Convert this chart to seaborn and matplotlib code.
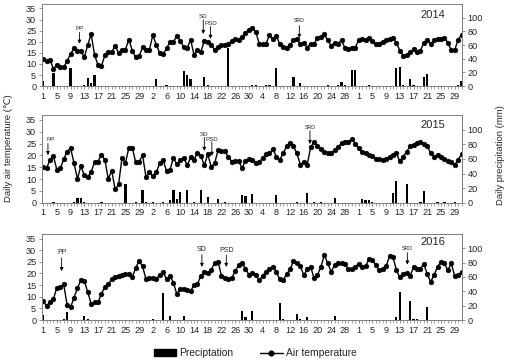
import numpy as np
import matplotlib
matplotlib.use("Agg")
import matplotlib.pyplot as plt
from matplotlib.patches import Patch
from matplotlib.lines import Line2D
import seaborn as sns

sns.set_theme(style="ticks")
plt.rcParams['font.family'] = ['Liberation Sans', 'DejaVu Sans']

# daily air temperature, 1 May - 31 Aug (123 days)
temp_2014 = [12.2, 11.5, 12.0, 7.8, 9.5, 8.5, 8.5, 11.3, 14.5, 17.0,
             16.0, 15.8, 13.0, 18.5, 23.5, 14.0, 9.5, 9.0, 14.0, 15.5,
             15.5, 18.0, 15.0, 16.5, 16.5, 21.0, 16.0, 13.0, 13.5, 17.5,
             16.5, 16.5, 23.0, 18.5, 15.0, 14.5, 17.0, 20.0, 20.0, 22.5,
             20.5, 17.5, 17.0, 21.0, 14.0, 16.5, 15.5, 20.5, 20.0, 18.5,
             16.5, 17.5, 18.5, 18.7, 19.0, 20.5, 21.2, 21.0, 22.0, 24.0,
             25.5, 26.0, 24.5, 19.2, 18.9, 19.2, 22.9, 21.1, 22.6, 18.9,
             17.7, 17.4, 18.5, 20.7, 21.1, 18.9, 19.6, 17.4, 19.2, 19.2,
             21.6, 22.2, 23.3, 20.7, 18.2, 19.6, 19.2, 20.7, 17.1, 16.7,
             17.0, 17.4, 20.7, 21.1, 20.7, 21.6, 20.4, 18.9, 19.2, 20.1,
             20.7, 21.1, 21.6, 19.6, 16.0, 13.7, 13.9, 15.2, 16.7, 15.2,
             16.0, 19.6, 20.7, 18.9, 20.7, 21.1, 21.3, 21.9, 19.6, 16.2,
             16.2, 21.0, 23.0]
temp_2015 = [15.0, 14.6, 18.1, 19.8, 13.9, 14.5, 18.4, 21.6, 23.1, 16.8,
             10.0, 15.5, 11.6, 10.8, 13.0, 17.2, 17.4, 20.3, 18.1, 10.0,
             13.6, 5.6, 7.7, 19.0, 16.7, 23.3, 23.3, 17.0, 17.4, 20.0,
             10.8, 12.8, 11.1, 12.8, 16.8, 18.0, 13.2, 13.9, 19.0, 16.2,
             18.1, 18.9, 15.8, 19.1, 18.2, 20.8, 19.7, 15.8, 20.4, 15.2,
             16.6, 22.2, 21.8, 21.8, 19.3, 17.4, 17.8, 17.6, 14.6, 17.8,
             18.3, 18.2, 16.8, 17.2, 18.8, 20.5, 20.9, 22.6, 19.5, 18.1,
             20.9, 23.8, 25.2, 23.8, 20.9, 16.0, 17.4, 16.0, 23.5, 25.5,
             23.8, 22.6, 21.6, 20.9, 21.2, 22.1, 23.5, 25.2, 25.5, 25.5,
             27.0, 25.0, 23.0, 21.5, 21.0, 20.2, 19.8, 18.6, 18.3, 18.1,
             18.4, 19.5, 20.2, 20.9, 17.5, 19.5, 21.6, 23.8, 24.5, 25.2,
             25.6, 24.8, 24.0, 20.9, 19.5, 20.3, 19.2, 18.4, 17.8, 17.0,
             16.0, 18.1, 20.5]
temp_2016 = [8.1, 6.0, 7.9, 9.0, 13.9, 14.1, 15.3, 6.4, 5.4, 9.6,
             13.6, 17.1, 16.7, 12.1, 6.9, 7.6, 7.6, 11.3, 14.2, 15.3,
             17.4, 18.3, 19.0, 19.5, 19.8, 19.7, 18.3, 22.5, 25.3, 23.0,
             17.5, 18.0, 18.0, 17.5, 19.5, 20.5, 17.5, 19.0, 16.0, 11.0,
             13.5, 13.5, 13.0, 12.5, 15.0, 15.5, 19.0, 20.5, 20.0, 21.5,
             24.5, 25.0, 19.0, 18.0, 17.5, 18.0, 21.0, 23.5, 24.5, 22.0,
             19.5, 20.0, 19.5, 17.0, 19.0, 20.7, 21.7, 22.9, 20.7, 17.4,
             17.1, 19.7, 21.7, 25.4, 24.3, 23.1, 19.3, 21.7, 22.9, 17.9,
             19.3, 22.9, 27.9, 24.3, 20.7, 23.6, 24.3, 24.3, 24.0, 21.7,
             21.7, 22.9, 24.0, 22.9, 23.1, 26.0, 25.7, 23.6, 21.4, 21.7,
             23.1, 27.4, 27.1, 21.4, 18.3, 19.7, 20.3, 18.9, 22.6, 21.7,
             22.1, 24.0, 19.7, 16.4, 19.3, 22.9, 25.0, 24.3, 21.4, 24.3,
             18.9, 19.3, 20.7]

# daily precipitation (mm): day index and amount of rainy days
rain_day_2014 = [1, 2, 4, 9, 13, 14, 15, 16, 34, 37, 42, 43, 44, 48, 49, 55, 62, 63,
                 66, 67, 69, 74, 76, 81, 84, 87, 88, 89, 91, 92, 96, 98, 99, 104, 105,
                 106, 108, 109, 112, 113, 122, 123]
rain_mm_2014 = [7.5, 0.5, 19, 27, 1.5, 11.5, 4, 16.5, 11, 1, 22.5, 17, 10, 14, 1, 55, 1.5, 1,
                1, 2, 27, 14, 5, 0.5, 1, 1, 6, 2, 23, 23, 1, 0.5, 0.5, 26, 28,
                1, 10, 1.5, 14, 18, 1, 8]
rain_day_2015 = [4, 10, 11, 12, 13, 18, 25, 28, 30, 31, 33, 36, 38, 39, 40, 41, 43, 45, 47,
                 49, 52, 54, 59, 60, 62, 69, 75, 78, 80, 82, 86, 94, 95, 96, 97, 103, 104,
                 107, 111, 112, 116, 118, 121]
rain_mm_2015 = [0.5, 1.5, 7, 7, 0.5, 0.5, 25, 0.5, 18, 1, 0.5, 0.5, 4, 17, 4.5, 14, 17, 0.5, 17,
                8, 4.5, 1.5, 10.5, 9, 12, 10.5, 0.5, 13.8, 0.5, 0.5, 6, 5, 3.7, 3.7, 0.5, 12.8, 30,
                25.7, 1.5, 16.5, 1, 0.5, 0.5]
rain_day_2016 = [1, 2, 7, 8, 13, 14, 33, 36, 38, 42, 53, 58, 59, 60, 62, 63, 68, 70, 71,
                 75, 76, 78, 86, 104, 105, 106, 108, 109, 110, 113, 117, 120]
rain_mm_2016 = [7, 0.5, 1, 11, 5, 2, 1, 37, 5.5, 5.5, 0.5, 0.5, 12.5, 4.6, 12.5, 0.5, 0.5, 23, 1,
                9, 2, 4.5, 6, 4.5, 39.5, 0.5, 27, 1, 1, 18, 0.5, 0.5]

years = ['2014', '2015', '2016']
tick_days = list(range(1, 122, 4))
tick_labels = ['1', '5', '9', '13', '17', '21', '25', '29',
               '2', '6', '10', '14', '18', '22', '26', '30',
               '4', '8', '12', '16', '20', '24', '28',
               '1', '5', '9', '13', '17', '21', '25', '29']

# stage arrows: label, day, text y, arrow tail y, arrow tip y (temperature units)
stages_2014 = [('PP', 11.6, 26.0, 24.2, 19.1), ('SD', 47.7, 31.2, 29.8, 23.5),
               ('PSD', 49.8, 28.0, 26.8, 21.3), ('SRD', 75.7, 29.5, 27.2, 21.7)]
stages_2015 = [('PP', 2.4, 26.7, 25.0, 20.1), ('SD', 48.0, 29.0, 27.6, 21.9),
               ('PSD', 50.2, 26.7, 25.7, 19.8), ('SRD', 78.8, 31.8, 30.4, 24.8)]
stages_2016 = [('PP', 6.4, 28.9, 26.7, 21.0), ('SD', 47.3, 30.3, 28.1, 22.8),
               ('PSD', 54.4, 29.9, 27.9, 22.8), ('SRD', 107.2, 30.7, 28.9, 23.8)]

temps = [temp_2014, temp_2015, temp_2016]
rain_days = [rain_day_2014, rain_day_2015, rain_day_2016]
rain_mm = [rain_mm_2014, rain_mm_2015, rain_mm_2016]
stages = [stages_2014, stages_2015, stages_2016]
year_y = [32.1, 32.8, 33.6]
boxes = [[0.082, 0.762, 0.824, 0.227],
         [0.082, 0.440, 0.824, 0.242],
         [0.082, 0.116, 0.824, 0.238]]

fig = plt.figure(figsize=(5.1, 3.62), dpi=100)
frame = '#808080'
for i in range(3):
    ax = fig.add_axes(boxes[i])
    ax2 = ax.twinx()
    ax2.bar(rain_days[i], rain_mm[i], width=0.65, color='black', linewidth=0)
    days = np.arange(1, len(temps[i]) + 1)
    sns.lineplot(x=days, y=temps[i], ax=ax, color='black', linewidth=1.0,
                 marker='o', markersize=3.4, markeredgecolor='black', markeredgewidth=0.4)
    ax.set_zorder(ax2.get_zorder() + 1)
    ax.patch.set_visible(False)

    ax.set_xlim(0.62, 123.15)
    ax.set_ylim(0, 37)
    ax2.set_ylim(0, 120)
    ax.set_yticks(range(0, 36, 5))
    ax2.set_yticks(range(0, 101, 20))
    ax.set_xticks(tick_days)
    ax.set_xticklabels(tick_labels)
    ax.set_xticks(range(1, 124), minor=True)
    ax.set_xlabel('')
    ax.set_ylabel('')
    for a in (ax, ax2):
        for s in a.spines.values():
            s.set_color(frame)
            s.set_linewidth(0.7)
        a.tick_params(axis='both', which='major', labelsize=6.6, length=2.5, width=0.6,
                      color=frame, pad=1.5, direction='out')
        a.tick_params(axis='x', which='minor', length=2, width=0.5, color=frame,
                      direction='out')

    for lab, d, yt, y0, y1 in stages[i]:
        fs = 3.8 if lab == 'SRD' else (5 if i == 2 else 4.5)
        ha = 'left' if (lab == 'PP' and i == 1) else 'center'
        xt = d - 0.5 if ha == 'left' else d
        ax.text(xt, yt, lab, fontsize=fs, ha=ha, va='center')
        ax.annotate('', xy=(d, y1), xytext=(d, y0),
                    arrowprops=dict(arrowstyle='-|>', color='black', lw=0.6,
                                    mutation_scale=5, shrinkA=0, shrinkB=0))
    ax.text(114.5, year_y[i], years[i], fontsize=8, ha='center', va='center')

fig.text(0.016, 0.59, 'Daily air temperature (℃)', rotation=90, fontsize=6.8,
         ha='center', va='center')
fig.text(0.981, 0.572, 'Daily precipitation (mm)', rotation=90, fontsize=6.8,
         ha='center', va='center')

handles = [Patch(facecolor='black', edgecolor='black'),
           Line2D([0], [0], color='black', lw=1.0, marker='o', markersize=3.4)]
fig.legend(handles, ['Preciptation', 'Air temperature'], loc='center',
           bbox_to_anchor=(0.5, 0.025), ncol=2, frameon=False, fontsize=7.4,
           handlelength=2.2, handleheight=0.6, columnspacing=2.6, handletextpad=0.3)

fig.savefig('out.png', dpi=100)
